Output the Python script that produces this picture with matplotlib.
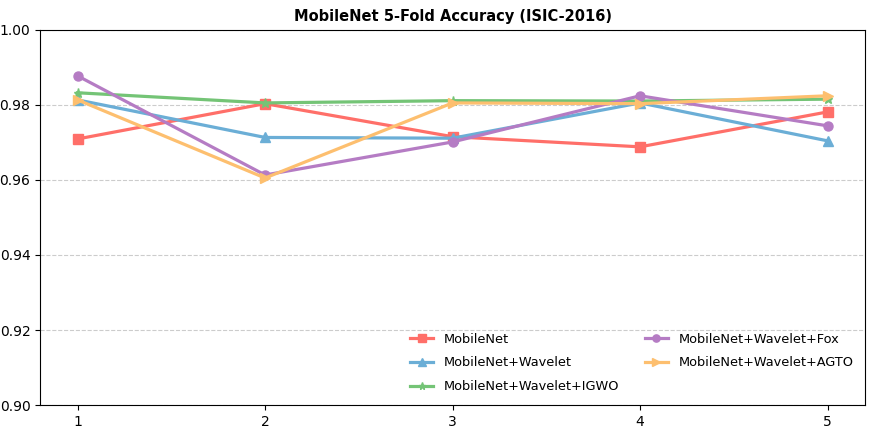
import matplotlib
matplotlib.use('Agg')
import matplotlib.pyplot as plt

folds = [1, 2, 3, 4, 5]
mobilenet = [0.9709, 0.9803, 0.9715, 0.9688, 0.9781]
wavelet = [0.9813, 0.9713, 0.9711, 0.9805, 0.9704]
igwo = [0.9832, 0.9805, 0.9811, 0.9810, 0.9815]
fox = [0.9877, 0.9613, 0.9701, 0.9824, 0.9744]
agto = [0.9813, 0.9605, 0.9805, 0.9803, 0.9824]

labels = ['MobileNet', 'MobileNet+Wavelet', 'MobileNet+Wavelet+IGWO',
          'MobileNet+Wavelet+Fox', 'MobileNet+Wavelet+AGTO']
series = [mobilenet, wavelet, igwo, fox, agto]
markers = ['s', '^', '*', 'o', '>']
colors = ['#ff6f69', '#6baed6', '#74c476', '#b57cc4', '#fdbf6f']

fig, ax = plt.subplots(figsize=(8.72, 4.37), dpi=100)

for vals, lab, m, c in zip(series, labels, markers, colors):
    ax.plot(folds, vals, marker=m, color=c, label=lab, linewidth=2.3, markersize=6.5)

ax.set_ylim(0.90, 1.00)
ax.set_xticks(folds)
ax.set_yticks([0.90, 0.92, 0.94, 0.96, 0.98, 1.00])
ax.yaxis.grid(True, linestyle='--', color='#cccccc', linewidth=0.8)
ax.set_title('MobileNet 5-Fold Accuracy (ISIC-2016)', fontweight='bold', fontsize=10.5)
ax.legend(loc='lower right', ncol=2, frameon=False, fontsize=9.3,
          handlelength=1.8, markerscale=0.8, columnspacing=2.0,
          labelspacing=0.85)

plt.subplots_adjust(left=0.046, right=0.992, top=0.932, bottom=0.073)
plt.savefig('out.png')
